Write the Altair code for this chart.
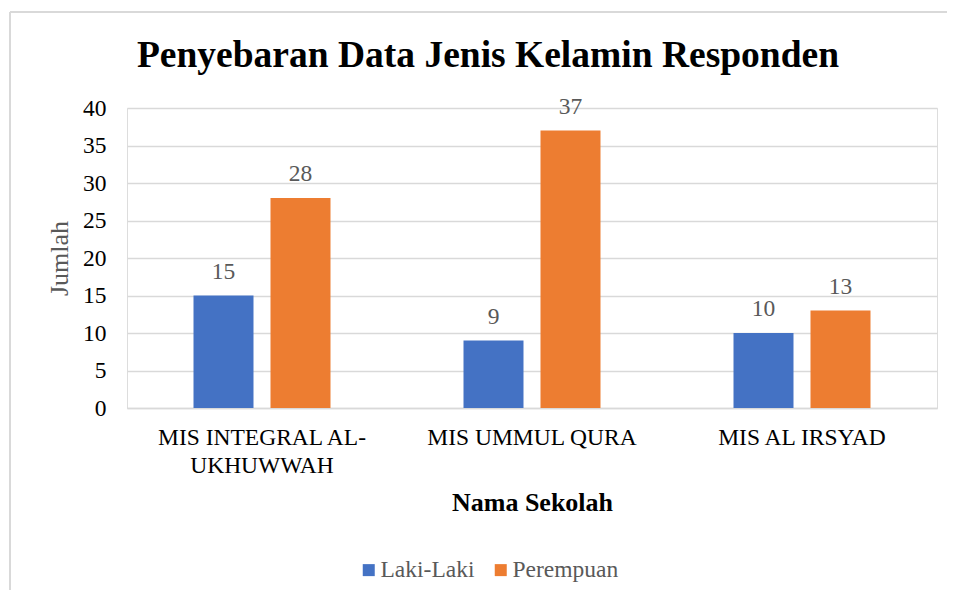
import altair as alt
import pandas as pd

schools = ["MIS INTEGRAL AL-UKHUWWAH", "MIS UMMUL QURA", "MIS AL IRSYAD"]
genders = ["Laki-Laki", "Perempuan"]
laki = [15, 9, 10]
perempuan = [28, 37, 13]

rows = []
for i, s in enumerate(schools):
    rows.append({"Sekolah": s, "Jenis": "Laki-Laki", "Jumlah": laki[i]})
    rows.append({"Sekolah": s, "Jenis": "Perempuan", "Jumlah": perempuan[i]})
df = pd.DataFrame(rows)

FONT = "Liberation Serif"
GRID = "#d9d9d9"
FS = 23.5

x_enc = alt.X(
    "Sekolah:N",
    sort=schools,
    scale=alt.Scale(paddingInner=0.4926, paddingOuter=0.2463),
    axis=alt.Axis(
        title="Nama Sekolah",
        titleFont=FONT,
        titleFontSize=26,
        titleFontWeight="bold",
        titleColor="#000000",
        titleBaseline="alphabetic",
        titleY=102,
        labelFont=FONT,
        labelFontSize=FS,
        labelColor="#000000",
        labelPadding=17,
        labelAngle=0,
        labelLimit=400,
        labelLineHeight=28,
        labelExpr="datum.label == 'MIS INTEGRAL AL-UKHUWWAH' ? ['MIS INTEGRAL AL-', 'UKHUWWAH'] : datum.label",
        ticks=False,
        domainColor=GRID,
        domainWidth=1.5,
        grid=False,
    ),
)

y_enc = alt.Y(
    "Jumlah:Q",
    scale=alt.Scale(domain=[0, 40]),
    axis=alt.Axis(
        values=[0, 5, 10, 15, 20, 25, 30, 35, 40],
        labelOverlap=False,
        title="Jumlah",
        titleFont=FONT,
        titleFontSize=26,
        titleFontWeight="normal",
        titleColor="#595959",
        titleBaseline="middle",
        titleX=-68,
        titleY=150,
        labelFont=FONT,
        labelFontSize=FS,
        labelColor="#000000",
        labelPadding=21,
        ticks=False,
        domain=False,
        grid=True,
        gridColor=GRID,
        gridWidth=1.5,
    ),
)

color_enc = alt.Color(
    "Jenis:N",
    scale=alt.Scale(domain=genders, range=["#4472C4", "#ED7D31"]),
    legend=alt.Legend(
        title=None,
        orient="none",
        direction="horizontal",
        legendX=230,
        legendY=450,
        symbolType="square",
        symbolSize=144,
        symbolStrokeWidth=0,
        labelFont=FONT,
        labelFontSize=FS,
        labelColor="#595959",
        columnPadding=14,
        labelOffset=0,
    ),
)

xoff = alt.XOffset(
    "Jenis:N",
    sort=genders,
    scale=alt.Scale(paddingInner=0.2208, paddingOuter=0),
)

base = alt.Chart(df).encode(x=x_enc, y=y_enc, xOffset=xoff)

bars = base.mark_bar().encode(color=color_enc)

labels = base.mark_text(
    font=FONT, fontSize=FS, color="#595959", baseline="alphabetic", dy=-17
).encode(text="Jumlah:Q")

border_top = alt.Chart(pd.DataFrame({"a": [0]})).mark_rule(
    color=GRID, strokeWidth=2, clip=False
).encode(x=alt.value(-117), x2=alt.value(840), y=alt.value(-96))

border_left = alt.Chart(pd.DataFrame({"a": [0]})).mark_rule(
    color=GRID, strokeWidth=2, clip=False
).encode(x=alt.value(-117), y=alt.value(-96), y2=alt.value(500))

chart = alt.layer(bars, labels, border_top, border_left).properties(
    width=810,
    height=300,
    autosize=alt.AutoSizeParams(type="none"),
    padding={"left": 119, "top": 100, "right": 10, "bottom": 182},
    title=alt.TitleParams(
        "Penyebaran Data Jenis Kelamin Responden",
        font=FONT,
        fontSize=37.5,
        fontWeight="bold",
        color="#000000",
        anchor="middle",
        baseline="alphabetic",
        dx=-44,
        offset=-93,
    ),
).configure_view(stroke=None).configure(background="white", font=FONT)

chart.save("out.html", embed_options={"renderer": "svg", "actions": False})
